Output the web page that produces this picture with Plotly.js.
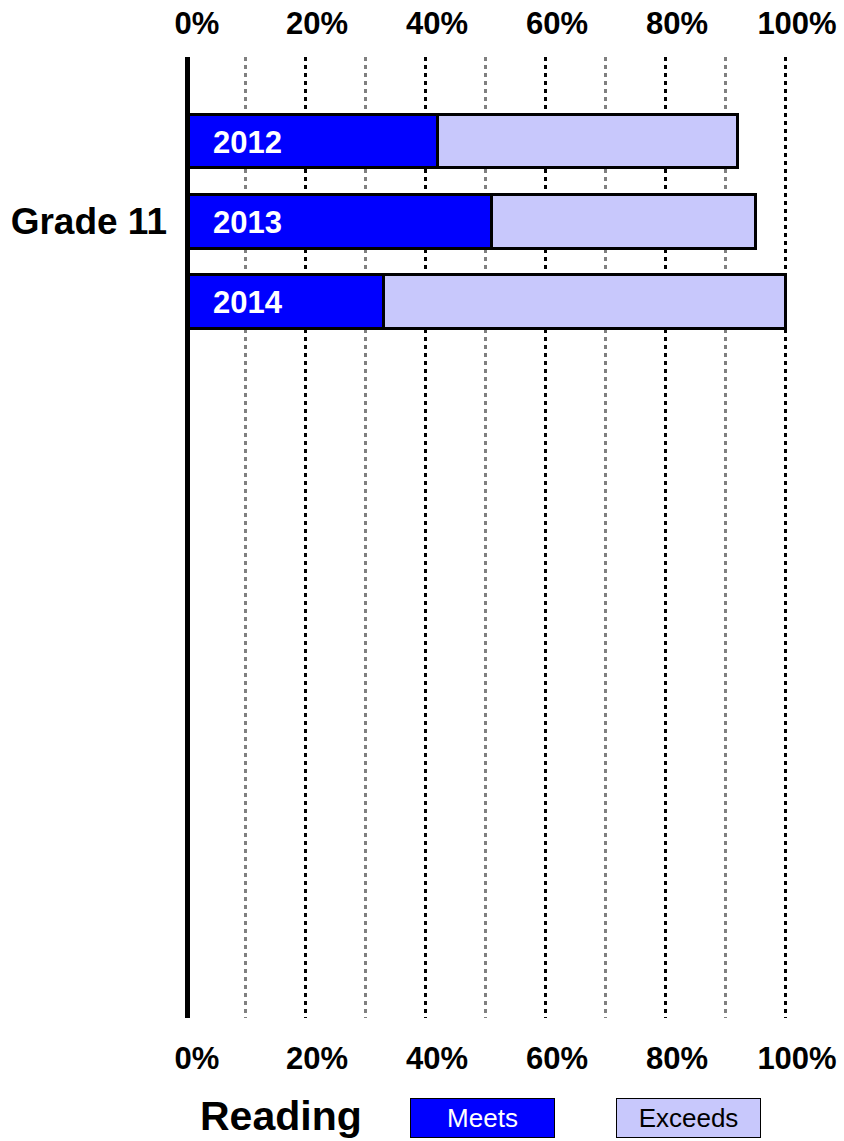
<!DOCTYPE html>
<html>
<head>
<meta charset="utf-8">
<script src="https://cdn.plot.ly/plotly-3.0.1.min.js"></script>
<style>
  html, body { margin: 0; padding: 0; background: #ffffff; }
  #chart { width: 844px; height: 1141px; }
</style>
</head>
<body>
<div id="chart"></div>
<script>
// ---- data ----
const years = ['2012', '2013', '2014'];
const meets = [42, 51, 33];
const exceeds = [50, 44, 67];
const seriesNames = ['Meets', 'Exceeds'];
const groupLabel = 'Grade 11';
const subjectLabel = 'Reading';
const tickValues = [0, 20, 40, 60, 80, 100];
const tickLabels = ['0%', '20%', '40%', '60%', '80%', '100%'];

const FONT = 'Liberation Sans, Arial, Helvetica, sans-serif';
const colors = ['#0000ff', '#c8c8fc'];

const traces = [
  {
    type: 'bar', orientation: 'h', name: seriesNames[0],
    x: meets, y: years, width: 0.67,
    marker: { color: colors[0], line: { color: '#000000', width: 3 } },
    hoverinfo: 'skip', showlegend: false
  },
  {
    type: 'bar', orientation: 'h', name: seriesNames[1],
    x: exceeds, y: years, width: 0.67,
    marker: { color: colors[1], line: { color: '#000000', width: 3 } },
    hoverinfo: 'skip', showlegend: false
  },
  {
    type: 'scatter', mode: 'none', x: meets, y: years,
    xaxis: 'x2', yaxis: 'y', hoverinfo: 'skip', showlegend: false
  }
];

const xCommon = {
  range: [0, 100.33],
  tickmode: 'array', tickvals: tickValues, ticktext: tickLabels,
  tickfont: { family: FONT, size: 31, color: '#000000', weight: 'bold' },
  ticks: '', zeroline: false, showline: false, fixedrange: true
};

const annotations = [];
years.forEach((yr, i) => {
  annotations.push({
    x: 0, y: i, xref: 'x', yref: 'y', text: yr, showarrow: false,
    xanchor: 'left', yanchor: 'middle', xshift: 26, yshift: -1,
    font: { family: FONT, size: 31, color: '#ffffff', weight: 'bold' }
  });
});
annotations.push({
  x: 0.16, y: -0.1021, xref: 'paper', yref: 'paper', text: subjectLabel,
  showarrow: false, xanchor: 'center', yanchor: 'middle',
  font: { family: FONT, size: 41, color: '#000000', weight: 'bold' }
});
const legendX = [0.4942, 0.8372];
seriesNames.forEach((nm, i) => {
  annotations.push({
    x: legendX[i], y: -0.1036, xref: 'paper', yref: 'paper', text: nm,
    showarrow: false, xanchor: 'center', yanchor: 'middle',
    width: 143, height: 38, borderpad: 0, borderwidth: 1,
    bordercolor: '#000000', bgcolor: colors[i],
    font: { family: FONT, size: 26, color: i === 0 ? '#ffffff' : '#000000' }
  });
});

const layout = {
  width: 844, height: 1141,
  margin: { l: 185, r: 57, t: 57, b: 123, pad: 0 },
  paper_bgcolor: '#ffffff', plot_bgcolor: '#ffffff',
  barmode: 'stack',
  showlegend: false,
  xaxis: Object.assign({}, xCommon, {
    side: 'bottom', anchor: 'y',
    showgrid: true, gridcolor: '#000000', gridwidth: 3, griddash: '4px,4px',
    minor: { dtick: 10, showgrid: true, gridcolor: '#808080', gridwidth: 3, griddash: '4px,4px' },
    ticklabelstandoff: 19, ticklabelshift: 12
  }),
  xaxis2: Object.assign({}, xCommon, {
    side: 'top', overlaying: 'x', anchor: 'y', showgrid: false,
    ticklabelstandoff: 16, ticklabelshift: 12
  }),
  yaxis: {
    type: 'category', categoryarray: years, categoryorder: 'array',
    range: [10.95, -1.05], fixedrange: true,
    tickmode: 'array', tickvals: [years[1]], ticktext: [groupLabel],
    tickfont: { family: FONT, size: 37, color: '#000000', weight: 'bold' },
    ticks: '', showgrid: false, zeroline: false, showline: false,
    ticklabelstandoff: 17
  },
  shapes: [{
    type: 'line', xref: 'x', xsizemode: 'pixel', xanchor: 0, x0: 2.5, x1: 2.5,
    yref: 'paper', y0: 0, y1: 1,
    line: { color: '#000000', width: 5 }, layer: 'above'
  }],
  annotations: annotations
};

Plotly.newPlot('chart', traces, layout, { staticPlot: true, displayModeBar: false });
</script>
</body>
</html>
